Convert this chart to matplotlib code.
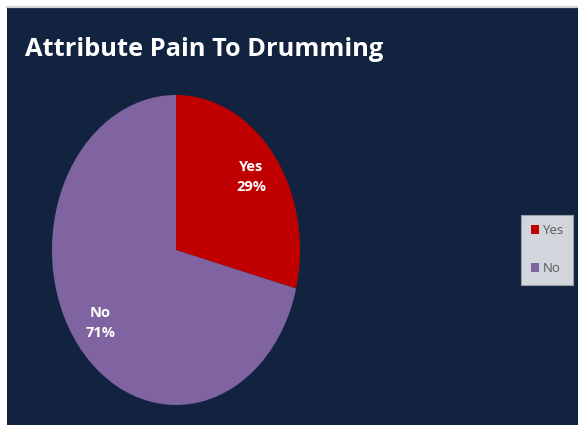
import matplotlib.pyplot as plt

labels = ["Yes", "No"]
shares = [29, 71]
colors = ["#C00000", "#8064A2"]
title = "Attribute Pain To Drumming"

W, H = 578, 425
fig = plt.figure(figsize=(W / 100, H / 100), dpi=100)
fig.patch.set_facecolor("white")

# navy panel; its top spine is the thin grey line above it
bg = fig.add_axes([7 / W, 0, 1 - 7 / W, (H - 7) / H], zorder=-1)
bg.set_facecolor("#11233F")
bg.set_xticks([])
bg.set_yticks([])
for name, s in bg.spines.items():
    s.set_visible(name == "top")
bg.spines["top"].set_color("#D4D4D4")
bg.spines["top"].set_linewidth(1.6)

fonts = ["Open Sans", "DejaVu Sans"]

fig.text(25 / W, 1 - 49 / H, title, color="white", fontsize=18.3,
         fontweight="bold", family=fonts, va="center", ha="left")

# pie is stretched vertically in the reference, so aspect stays auto
cx, cy, rx, ry = 176, 250, 124, 155
ax = fig.add_axes([(cx - rx) / W, (H - cy - ry) / H, 2 * rx / W, 2 * ry / H])


def fmt(pct):
    i = [round(s / sum(shares) * 100) for s in shares].index(round(pct))
    return f"{labels[i]}\n{pct:.0f}%"


wedges, texts, autotexts = ax.pie(
    shares, colors=colors, startangle=90, counterclock=False,
    autopct=fmt, pctdistance=0.77,
    textprops=dict(color="white", fontsize=10.5, fontweight="bold",
                   family=fonts, linespacing=1.6),
    wedgeprops=dict(linewidth=0))
ax.set_xlim(-1, 1)
ax.set_ylim(-1, 1)
ax.set_aspect("auto")
ax.axis("off")

leg = fig.legend(wedges, labels, loc="upper right",
                 bbox_to_anchor=(573 / W, 1 - 215 / H),
                 frameon=True, fancybox=False, facecolor="#D3D5DC",
                 edgecolor="#9A9EA8", framealpha=1, handlelength=0.6,
                 handleheight=0.7, handletextpad=0.3, labelspacing=1.9,
                 borderpad=0.7, borderaxespad=0,
                 prop=dict(family=fonts, size=9.5))
leg.get_frame().set_linewidth(0.8)
for t in leg.get_texts():
    t.set_color("#595959")

fig.savefig("out.png", dpi=100, facecolor=fig.get_facecolor())
